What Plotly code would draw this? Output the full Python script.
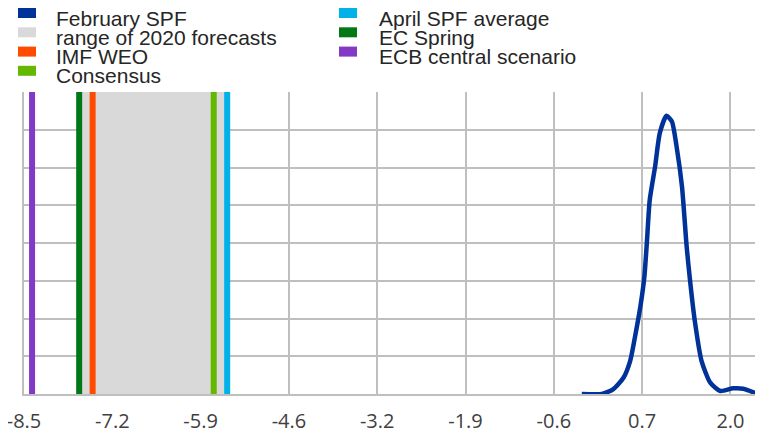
import plotly.graph_objects as go

# ---- data ----
density_x = [-0.21, 0.09, 0.26, 0.41, 0.51, 0.58, 0.66, 0.72, 0.76, 0.80, 0.88, 0.95,
             1.05, 1.13, 1.20, 1.28, 1.35, 1.40, 1.47, 1.57, 1.70, 1.85, 2.04, 2.19, 2.39]
density_y = [0.0, 0.0, 0.13, 0.43, 0.88, 1.50, 2.30, 3.09, 4.07, 5.13, 6.02, 6.91,
             7.37, 7.22, 6.55, 5.49, 3.89, 3.00, 1.94, 0.88, 0.30, 0.08, 0.15, 0.14, 0.01]

range_low, range_high = -7.7, -5.5
line_names = ["IMF WEO", "Consensus", "April SPF average", "EC Spring", "ECB central scenario"]
line_values = [-7.48, -5.68, -5.48, -7.68, -8.38]
line_colors = ["#ff4b00", "#65b800", "#00b1ea", "#007816", "#8139c6"]

tick_values = [-8.5, -7.1875, -5.875, -4.5625, -3.25, -1.9375, -0.625, 0.6875, 2.0]
tick_labels = ["-8.5", "-7.2", "-5.9", "-4.6", "-3.2", "-1.9", "-0.6", "0.7", "2.0"]

legend_col1 = [("February SPF", "#003299"), ("range of 2020 forecasts", "#d9d9d9"),
               ("IMF WEO", "#ff4b00"), ("Consensus", "#65b800")]
legend_col2 = [("April SPF average", "#00b1ea"), ("EC Spring", "#007816"),
               ("ECB central scenario", "#8139c6")]

Y_MAX = 8
OFF = 8  # default page body margin
W, H = 763 - OFF, 433 - OFF
ML, MR, MT, MB = 24 - OFF, 0, 92 - OFF, 39

fig = go.Figure()

# range of forecasts (shaded band)
fig.add_trace(go.Scatter(
    x=[range_low, range_high, range_high, range_low, range_low],
    y=[0, 0, Y_MAX, Y_MAX, 0],
    fill="toself", fillcolor="#d9d9d9", line=dict(width=0),
    mode="lines", name="range of 2020 forecasts", hoverinfo="skip"))

for name, v, c in zip(line_names, line_values, line_colors):
    fig.add_trace(go.Scatter(x=[v, v], y=[0, Y_MAX], mode="lines",
                             line=dict(color=c, width=6), name=name))

fig.add_trace(go.Scatter(x=density_x, y=density_y, mode="lines",
                         line=dict(color="#003299", width=4.5, shape="spline", smoothing=0.6),
                         name="February SPF"))

# ---- manual legend (positions given in page pixels) ----
pw = W - ML - MR
ph = H - MT - MB


def px_x(p):
    return (p - OFF - ML) / pw


def px_y(p):
    return (H - MB - (p - OFF)) / ph


rows_text = [18, 37.3, 56.6, 75.8]
for col, (mx0, tx) in zip([legend_col1, legend_col2], [(18, 54), (339, 377)]):
    for (name, c), ty in zip(col, rows_text):
        my = ty - 5
        fig.add_shape(type="rect", xref="paper", yref="paper",
                      x0=px_x(mx0), x1=px_x(mx0 + 18),
                      y0=px_y(my + 5), y1=px_y(my - 5),
                      fillcolor=c, line=dict(width=0))
        fig.add_annotation(text=name, xref="paper", yref="paper",
                           x=px_x(tx), y=px_y(ty), xanchor="left", yanchor="middle",
                           showarrow=False,
                           font=dict(family="Liberation Sans, Arial", size=21, color="#262626"))

fig.update_layout(
    width=W, height=H,
    margin=dict(l=ML, r=MR, t=MT, b=MB, pad=0, autoexpand=False),
    paper_bgcolor="white", plot_bgcolor="white",
    showlegend=False,
    xaxis=dict(range=[-8.5, 2.484], tickmode="array", tickvals=tick_values, ticktext=tick_labels,
               showgrid=True, gridcolor="#bfbfbf", gridwidth=2, zeroline=False,
               showline=True, linecolor="#bfbfbf", linewidth=2,
               ticks="outside", ticklen=8, tickcolor="rgba(0,0,0,0)",
               automargin=False, ticklabeloverflow="allow",
               tickfont=dict(family="Open Sans, sans-serif", size=20, color="#404040")),
    yaxis=dict(range=[0, Y_MAX], dtick=1, showticklabels=False, automargin=False,
               showgrid=True, gridcolor="#bfbfbf", gridwidth=2, zeroline=False,
               showline=True, linecolor="#bfbfbf", linewidth=2, ticks=""),
)

fig.write_html("out.html")
